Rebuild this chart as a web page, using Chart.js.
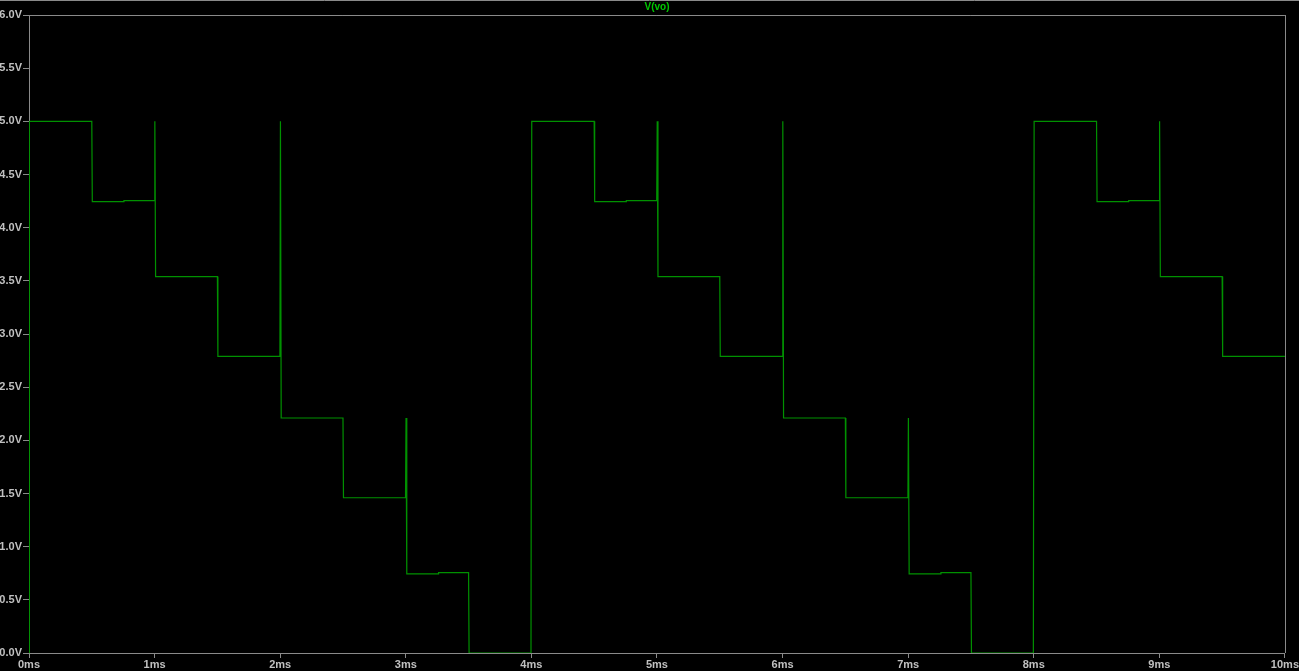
<!DOCTYPE html>
<html>
<head>
<meta charset="utf-8">
<script src="https://cdn.jsdelivr.net/npm/chart.js@4"></script>
<style>
html,body{margin:0;padding:0;background:#000;}
#wrap{width:1299px;height:671px;}
</style>
</head>
<body>
<div id="wrap"><canvas id="c" width="1299" height="671"></canvas></div>
<script>
// Waveform V(vo): time (ms) and voltage (V)
const timeMs = [
  0.000, 0.003, 0.500, 0.504, 0.755, 0.756, 0.998, 1.002, 1.008,
  1.500, 1.504, 1.998, 2.002, 2.008, 2.500, 2.504, 2.998, 3.002, 3.008, 3.260, 3.261,
  3.500, 3.504, 3.997, 4.003, 4.500, 4.504, 4.755, 4.756, 4.998, 5.002, 5.008,
  5.500, 5.504, 5.998, 6.002, 6.008, 6.500, 6.504, 6.998, 7.002, 7.008, 7.260, 7.261,
  7.500, 7.504, 7.997, 8.003, 8.500, 8.504, 8.755, 8.756, 8.998, 9.002, 9.008,
  9.500, 9.504, 10.000
];
const voltage = [
  0.00, 5.00, 5.00, 4.245, 4.245, 4.255, 4.255, 5.00, 3.54,
  3.54, 2.79, 2.79, 5.00, 2.21, 2.21, 1.46, 1.46, 2.21, 0.745, 0.745, 0.755,
  0.755, 0.00, 0.00, 5.00, 5.00, 4.245, 4.245, 4.255, 4.255, 5.00, 3.54,
  3.54, 2.79, 2.79, 5.00, 2.21, 2.21, 1.46, 1.46, 2.21, 0.745, 0.745, 0.755,
  0.755, 0.00, 0.00, 5.00, 5.00, 4.245, 4.245, 4.255, 4.255, 5.00, 3.54,
  3.54, 2.79, 2.79
];
const xTickLabels = ['0ms','1ms','2ms','3ms','4ms','5ms','6ms','7ms','8ms','9ms','10ms'];
const yTickLabels = ['0.0V','0.5V','1.0V','1.5V','2.0V','2.5V','3.0V','3.5V','4.0V','4.5V','5.0V','5.5V','6.0V'];
const seriesName = 'V(vo)';

const points = timeMs.map((t, i) => ({x: t, y: voltage[i]}));

const frame = {
  id: 'frame',
  beforeDraw(chart) {
    const ctx = chart.ctx;
    ctx.save();
    ctx.fillStyle = '#000';
    ctx.fillRect(0, 0, chart.width, chart.height);
    ctx.restore();
  },
  afterDraw(chart) {
    const ctx = chart.ctx, a = chart.chartArea;
    ctx.save();
    ctx.strokeStyle = '#8a8a8a';
    ctx.lineWidth = 1;
    ctx.beginPath();
    ctx.moveTo(0, 0.5); ctx.lineTo(chart.width, 0.5);
    ctx.moveTo(a.left, Math.round(a.top) + 0.5); ctx.lineTo(a.right, Math.round(a.top) + 0.5);
    ctx.moveTo(Math.round(a.right) + 0.5, a.top); ctx.lineTo(Math.round(a.right) + 0.5, a.bottom);
    ctx.stroke();
    ctx.restore();
  }
};

new Chart(document.getElementById('c'), {
  type: 'scatter',
  data: {
    datasets: [{
      label: seriesName,
      data: points,
      showLine: true,
      borderColor: 'rgb(0,145,0)',
      borderWidth: 1.2,
      pointRadius: 0,
      tension: 0,
      fill: false
    }]
  },
  options: {
    responsive: false,
    animation: false,
    devicePixelRatio: 1,
    layout: {padding: {left: 0, right: 10, top: 0, bottom: 0}},
    plugins: {
      legend: {display: false},
      tooltip: {enabled: false},
      title: {
        display: true,
        fullSize: false,
        text: seriesName,
        color: '#00c800',
        font: {family: 'Liberation Sans', size: 10, weight: 'bold', lineHeight: 1.3},
        padding: {top: 1, bottom: 1}
      }
    },
    scales: {
      x: {
        type: 'linear',
        min: 0, max: 10,
        afterFit(s) { s.height = 18; },
        afterBuildTicks(s) { s.ticks = xTickLabels.map((_, i) => ({value: i})); },
        ticks: {
          callback: (v, i) => xTickLabels[i],
          color: '#c0c0c0',
          font: {family: 'Liberation Sans', size: 11, weight: 'bold'},
          padding: 0,
          maxRotation: 0,
          autoSkip: false
        },
        grid: {display: true, drawOnChartArea: false, drawTicks: true, tickLength: 5, color: '#8a8a8a'},
        border: {display: true, color: '#8a8a8a'}
      },
      y: {
        type: 'linear',
        min: 0, max: 6,
        afterFit(s) { s.width = 29; },
        afterBuildTicks(s) { s.ticks = yTickLabels.map((_, i) => ({value: i * 0.5})); },
        ticks: {
          callback: (v, i) => yTickLabels[i],
          color: '#c0c0c0',
          font: {family: 'Liberation Sans', size: 11, weight: 'bold'},
          padding: 1,
          autoSkip: false
        },
        grid: {display: true, drawOnChartArea: false, drawTicks: true, tickLength: 6, color: '#8a8a8a'},
        border: {display: true, color: '#8a8a8a'}
      }
    }
  },
  plugins: [frame]
});
</script>
</body>
</html>
